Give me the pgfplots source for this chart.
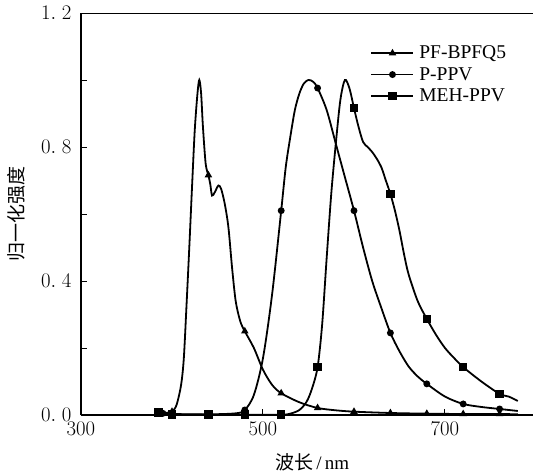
\documentclass[border=0pt]{standalone}
\usepackage{pgfplots}
\pgfplotsset{compat=1.18}
\usepackage{fontspec}
\setmainfont{Liberation Serif}
\newfontfamily\cjk{Noto Sans CJK SC}
\begin{document}
\begin{tikzpicture}
\begin{axis}[
  at={(0,0)}, anchor=south west,
  scale only axis, width=455pt, height=402pt,
  xmin=300, xmax=800, ymin=0, ymax=1.2,
  axis lines*=left,
  axis line style={line width=1.2pt},
  tick align=inside,
  major tick length=6pt, minor tick length=6pt,
  tick style={line width=1pt, black},
  xtick={300,500,700}, minor xtick={400,600},
  ytick={0,0.4,0.8,1.2}, minor ytick={0.2,0.6,1.0},
  yticklabels={$0.\mkern5mu 0$,$0.\mkern5mu 4$,$0.\mkern5mu 8$,$1.\mkern5mu 2$},
  xticklabel style={font=\fontsize{20}{24}\selectfont, yshift=-4pt},
  yticklabel style={font=\fontsize{20}{24}\selectfont, xshift=-6pt},
  xlabel={{\cjk 波长}\,/\,nm},
  ylabel={\cjk 归一化强度},
  xlabel style={font=\fontsize{19}{22}\selectfont, at={(axis description cs:0.508,-0.117)}, anchor=center},
  ylabel style={font=\fontsize{19}{22}\selectfont, at={(axis description cs:-0.143,0.5)}, anchor=center},
  legend style={draw=none, fill=none, at={(axis cs:618,1.108)}, anchor=north west,
    font=\fontsize{19.5}{20}\selectfont, row sep=3pt, inner sep=0pt,
    nodes={inner sep=2pt}},
  legend cell align=left,
  legend image code/.code={\draw[#1, mark repeat=2, mark phase=2] plot coordinates {(0pt,0pt) (21pt,0pt) (42pt,0pt)};},
  every axis plot/.append style={black, line width=1.8pt},
]
% PF-BPFQ5 curve
\addplot[smooth, tension=0.5, forget plot] coordinates {
(385,0.005) (390,0.006) (395,0.007) (400,0.01) (405,0.03) (410,0.09) (413,0.17) (416,0.33) (419,0.50) (422,0.68) (425,0.85) (428,0.96) (430,1.0) (432,0.96) (434,0.86) (437,0.75) (440,0.716) (442,0.69) (444,0.655) (447,0.665) (451,0.685) (454,0.675) (458,0.63) (462,0.56) (466,0.44) (470,0.34) (475,0.28) (480,0.25) (490,0.20) (500,0.135) (510,0.09) (520,0.065) (540,0.038) (560,0.021) (580,0.014) (600,0.01) (640,0.006) (680,0.004) (720,0.003) (760,0.003) (780,0.002)};
% P-PPV curve
\addplot[smooth, tension=0.5, forget plot] coordinates {
(385,0.005) (400,0.003) (440,0.002) (470,0.005) (480,0.015) (490,0.06) (500,0.17) (510,0.36) (520,0.61) (525,0.74) (530,0.83) (535,0.91) (540,0.96) (545,0.99) (550,1.0) (555,0.995) (560,0.976) (570,0.91) (580,0.81) (590,0.71) (600,0.61) (610,0.50) (620,0.40) (630,0.32) (640,0.245) (650,0.19) (660,0.145) (670,0.115) (680,0.093) (700,0.055) (720,0.033) (740,0.024) (760,0.018) (780,0.012)};
% MEH-PPV curve
\addplot[smooth, tension=0.5, forget plot] coordinates {
(385,0.008) (400,0.002) (440,0.001) (480,0.001) (520,0.001) (530,0.004) (540,0.015) (548,0.04) (554,0.08) (560,0.143) (565,0.27) (570,0.47) (575,0.66) (580,0.81) (585,0.94) (590,1.0) (595,0.975) (600,0.916) (605,0.86) (610,0.815) (615,0.80) (620,0.785) (625,0.765) (630,0.74) (635,0.70) (640,0.66) (645,0.61) (650,0.55) (655,0.48) (660,0.42) (670,0.34) (680,0.287) (690,0.24) (700,0.20) (710,0.17) (720,0.143) (740,0.10) (760,0.063) (770,0.055) (780,0.042)};
% marks
\addplot[only marks, mark=triangle*, mark size=2.6pt, forget plot] coordinates {
(385,0.005) (400,0.01) (440,0.716) (480,0.25) (520,0.065) (560,0.021) (600,0.01) (640,0.006) (680,0.004) (720,0.003) (760,0.003)};
\addplot[only marks, mark=*, mark size=2.5pt, forget plot] coordinates {
(390,0.005) (400,0.003) (440,0.002) (480,0.015) (520,0.61) (560,0.976) (600,0.61) (640,0.245) (680,0.093) (720,0.033) (760,0.018)};
\addplot[only marks, mark=square*, mark size=3.3pt, forget plot] coordinates {
(385,0.008) (400,0.002) (440,0.001) (480,0.001) (520,0.001) (560,0.143) (600,0.916) (640,0.66) (680,0.287) (720,0.143) (760,0.063)};
\addlegendimage{black, line width=1.8pt, mark=triangle*, mark size=2.6pt}
\addlegendentry{\hspace{3pt}PF-BPFQ5}
\addlegendimage{black, line width=1.8pt, mark=*, mark size=2.5pt}
\addlegendentry{\hspace{3pt}P-PPV}
\addlegendimage{black, line width=1.8pt, mark=square*, mark size=3.3pt}
\addlegendentry{\hspace{3pt}MEH-PPV}
\draw[line width=1.2pt] (rel axis cs:0,1) -- (rel axis cs:1,1);
\end{axis}
\pgfresetboundingbox
\path (-81pt,-60pt) rectangle (452pt,415pt);
\end{tikzpicture}
\end{document}
